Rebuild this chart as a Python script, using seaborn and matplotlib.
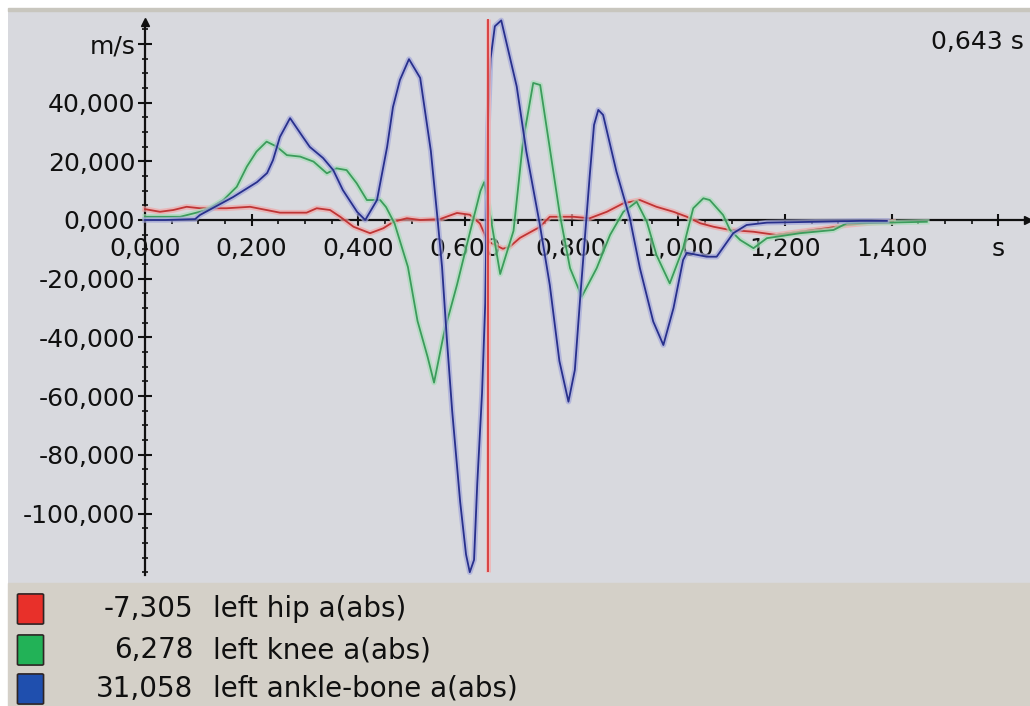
import matplotlib
matplotlib.use("Agg")
import matplotlib.pyplot as plt
import matplotlib.patheffects as pe
from matplotlib.patches import Rectangle, FancyBboxPatch
from matplotlib.ticker import FixedLocator
import pandas as pd
import seaborn as sns

# ---------------- data ----------------
hip_t = [0.000, 0.028, 0.053, 0.078, 0.103, 0.153, 0.197, 0.228, 0.253, 0.303, 0.322, 0.347,
         0.366, 0.391, 0.422, 0.447, 0.466, 0.491, 0.516, 0.553, 0.585, 0.609, 0.628, 0.643,
         0.671, 0.684, 0.703, 0.740, 0.759, 0.803, 0.834, 0.866, 0.897, 0.928, 0.959, 0.991,
         1.016, 1.041, 1.066, 1.097, 1.141, 1.184, 1.228, 1.278, 1.316, 1.366, 1.403]
hip_v = [3700, 2800, 3400, 4500, 4000, 4000, 4500, 3400, 2500, 2500, 4000, 3400,
         1100, -2300, -4500, -2800, -600, 600, 0, 300, 2400, 1800, -1200, -7305,
         -9800, -9100, -6100, -2400, 1100, 1100, 600, 2800, 5700, 6800, 4500, 2800,
         1100, -1100, -2300, -3400, -4000, -5100, -4000, -2800, -1700, -900, -600]

knee_t = [0.000, 0.066, 0.116, 0.147, 0.172, 0.191, 0.209, 0.228, 0.247, 0.266, 0.291, 0.316,
          0.341, 0.359, 0.378, 0.397, 0.416, 0.441, 0.452, 0.468, 0.493, 0.511, 0.530, 0.542,
          0.561, 0.585, 0.610, 0.629, 0.636, 0.643, 0.666, 0.691, 0.709, 0.728, 0.741, 0.759,
          0.778, 0.797, 0.819, 0.847, 0.872, 0.897, 0.922, 0.941, 0.959, 0.984, 1.009, 1.028,
          1.047, 1.059, 1.084, 1.097, 1.116, 1.141, 1.166, 1.228, 1.291, 1.316, 1.391, 1.466]
knee_v = [1100, 1100, 3400, 6800, 11300, 18200, 23300, 26700, 25000, 22100, 21600, 19900,
          15900, 17600, 17000, 12500, 6800, 6800, 4400, -1200, -16000, -34400, -46700, -55400,
          -38200, -22100, -3700, 9900, 12900, 6278, -18400, -3700, 27000, 46700, 46000, 24500,
          1700, -16400, -26100, -16400, -5100, 2800, 6200, -600, -11900, -21600, -9600, 4000,
          7400, 6800, 1700, -3400, -6800, -9600, -6200, -4500, -3400, -1100, -900, -600]

ankle_t = [0.000, 0.038, 0.094, 0.103, 0.165, 0.210, 0.229, 0.240, 0.253, 0.272, 0.296, 0.309,
           0.334, 0.353, 0.371, 0.398, 0.413, 0.435, 0.454, 0.465, 0.478, 0.495, 0.516, 0.536,
           0.548, 0.557, 0.566, 0.576, 0.591, 0.602, 0.609, 0.617, 0.623, 0.632, 0.638, 0.643,
           0.648, 0.656, 0.668, 0.697, 0.715, 0.740, 0.759, 0.777, 0.794, 0.806, 0.816, 0.834,
           0.842, 0.850, 0.859, 0.884, 0.909, 0.928, 0.953, 0.972, 0.991, 1.009, 1.016, 1.053,
           1.072, 1.103, 1.128, 1.166, 1.260, 1.341, 1.391]
ankle_v = [0, 0, 300, 1700, 7800, 12900, 16000, 20400, 28300, 34700, 28300, 24900,
           21100, 17000, 10200, 2700, 0, 6800, 24900, 38500, 47700, 54800, 48400, 23500,
           1400, -16000, -40500, -65100, -96100, -114000, -120000, -115800, -89900, -58900, -28300, 31058,
           55000, 66000, 68000, 45500, 23400, -1200, -22100, -48000, -61900, -51100, -26600, 15300,
           32400, 37500, 35800, 16500, 700, -16400, -34600, -42600, -30000, -13600, -11200, -12500,
           -12500, -4500, -1700, -900, -600, -300, -300]

series_names = ["left hip a(abs)", "left knee a(abs)", "left ankle-bone a(abs)"]
cursor_values = ["-7,305", "6,278", "31,058"]
cursor_time = 0.643

x_ticks = [0.0, 0.2, 0.4, 0.6, 0.8, 1.0, 1.2, 1.4, 1.6]
x_tick_labels = ["0,000", "0,200", "0,400", "0,600", "0,800", "1,000", "1,200", "1,400", "s"]
y_ticks = [-100000, -80000, -60000, -40000, -20000, 0, 20000, 40000, 60000]
y_tick_labels = ["-100,000", "-80,000", "-60,000", "-40,000", "-20,000", "0,000",
                 "20,000", "40,000", "m/s"]

line_colors = ["#c03535", "#3c9c5c", "#28308c"]
halo_colors = ["#f0a8a8", "#a8dcb8", "#a4a8da"]
swatch_colors = ["#e8302a", "#22b257", "#1f4fae"]

# ---------------- figure ----------------
W, H = 1030, 706
fig = plt.figure(figsize=(W / 100, H / 100), dpi=100, facecolor="white")
plt.rcParams["font.family"] = ["DejaVu Sans"]


def fx(x):
    return x / W


def fy(y):
    return 1 - y / H


# plot frame in pixels
left_px, right_px, top_px, bot_px = 8, 1030, 11, 583
ax = fig.add_axes([fx(left_px), fy(bot_px), (right_px - left_px) / W, (bot_px - top_px) / H])
ax.set_facecolor("#d8d9de")

x0_px, px_per_s = 145.0, 533.3
y0_px, val_per_px = 220.0, 340.7
ax.set_xlim((left_px - x0_px) / px_per_s, (right_px - x0_px) / px_per_s)
ax.set_ylim((y0_px - bot_px) * val_per_px, (y0_px - top_px) * val_per_px)

# top border band and legend panel
fig.patches.append(Rectangle((fx(left_px), fy(top_px)), (right_px - left_px) / W, 3 / H,
                             transform=fig.transFigure, color="#c8c6be", zorder=5))
fig.patches.append(Rectangle((fx(left_px), 0), (right_px - left_px) / W, (H - bot_px) / H,
                             transform=fig.transFigure, color="#d4d0c8", zorder=0))

# curves
df = pd.concat([
    pd.DataFrame({"t": hip_t, "v": hip_v, "series": series_names[0]}),
    pd.DataFrame({"t": knee_t, "v": knee_v, "series": series_names[1]}),
    pd.DataFrame({"t": ankle_t, "v": ankle_v, "series": series_names[2]}),
], ignore_index=True)

sns.lineplot(data=df, x="t", y="v", hue="series", hue_order=series_names,
             palette=dict(zip(series_names, line_colors)), sort=False,
             estimator=None, legend=False, linewidth=1.3, ax=ax)
for line, halo in zip(ax.lines, halo_colors):
    line.set_path_effects([pe.Stroke(linewidth=4.0, foreground=halo, alpha=0.7), pe.Normal()])
    line.set_zorder(3)

# cursor line
y_axis_bottom = (y0_px - 575) * val_per_px
y_axis_top = (y0_px - 22) * val_per_px
cur = ax.vlines(cursor_time, (y0_px - 572) * val_per_px, (y0_px - 19) * val_per_px,
                color="#d63a3a", linewidth=1.3, zorder=4)
cur.set_path_effects([pe.Stroke(linewidth=3.6, foreground="#f2b2b2", alpha=0.8), pe.Normal()])

# axes through zero
for s in ["top", "right"]:
    ax.spines[s].set_visible(False)
ax.spines["left"].set_position(("data", 0))
ax.spines["bottom"].set_position(("data", 0))
x_end = (1028 - x0_px) / px_per_s
ax.spines["left"].set_bounds(y_axis_bottom, y_axis_top)
ax.spines["bottom"].set_bounds(0, x_end)
for s in ["left", "bottom"]:
    ax.spines[s].set_linewidth(1.6)
    ax.spines[s].set_color("#101010")
    ax.spines[s].set_zorder(2.5)

ax.plot(0, y_axis_top, marker="^", color="#101010", markersize=6, clip_on=False, zorder=6)
ax.plot(x_end, 0, marker=">", color="#101010", markersize=6, clip_on=False, zorder=6)

ax.xaxis.set_major_locator(FixedLocator(x_ticks))
ax.set_xticklabels(x_tick_labels)
ax.xaxis.set_minor_locator(FixedLocator([i * 0.05 for i in range(0, 34)]))
ax.yaxis.set_major_locator(FixedLocator(y_ticks))
ax.set_yticklabels(y_tick_labels)
ax.yaxis.set_minor_locator(FixedLocator([i * 5000 for i in range(-24, 14)]))

ax.tick_params(axis="y", which="major", direction="inout", length=10, width=1.5,
               pad=2, labelsize=18, colors="#101010")
ax.tick_params(axis="y", which="minor", direction="inout", length=5, width=1.2, colors="#101010")
ax.tick_params(axis="x", which="major", direction="inout", length=8, width=1.5,
               pad=8, labelsize=18, colors="#101010")
ax.tick_params(axis="x", which="minor", direction="out", length=3, width=1.2, colors="#101010")
ax.set_xlabel("")
ax.set_ylabel("")

# cursor time readout
fig.text(fx(931), fy(42), f"{cursor_time:.3f}".replace(".", ",") + " s",
         fontsize=18, ha="left", va="center", color="#101010")

# legend panel
row_y = [609, 650, 689]
for yy, col, val, name in zip(row_y, swatch_colors, cursor_values, series_names):
    fig.patches.append(FancyBboxPatch((fx(19), fy(yy + 14)), 23 / W, 28 / H,
                                      boxstyle="round,pad=0.0015", transform=fig.transFigure,
                                      facecolor=col, edgecolor="#2e2424", linewidth=1.2, zorder=3))
    fig.text(fx(193), fy(yy), val, fontsize=20, ha="right", va="center", color="#101010")
    fig.text(fx(213), fy(yy), name, fontsize=20, ha="left", va="center", color="#101010")

fig.savefig("out.png", dpi=100, facecolor="white")
